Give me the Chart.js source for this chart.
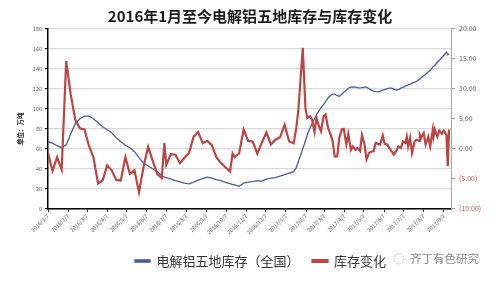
<!DOCTYPE html>
<html><head><meta charset="utf-8">
<script src="https://cdn.jsdelivr.net/npm/chart.js@4.4.0/dist/chart.umd.min.js"></script>
<style>html,body{margin:0;padding:0;background:#fff}canvas{display:block}</style>
</head><body>
<canvas id="c" width="500" height="281"></canvas>
<script>
const titleText = '2016年1月至今电解铝五地库存与库存变化';
const yTitle = '单位：万吨';
const seriesNames = ['电解铝五地库存（全国）', '库存变化'];
const watermark = '齐丁有色研究';

const dates = [
 '2016/1/7','2016/1/14','2016/1/21','2016/1/28','2016/2/4','2016/2/11','2016/2/18','2016/2/25',
 '2016/3/3','2016/3/10','2016/3/17','2016/3/24','2016/3/31','2016/4/7','2016/4/14','2016/4/21','2016/4/28',
 '2016/5/5','2016/5/12','2016/5/19','2016/5/26','2016/6/2','2016/6/9','2016/6/16','2016/6/23','2016/6/30',
 '2016/7/4','2016/7/7','2016/7/14','2016/7/21','2016/7/28','2016/8/4','2016/8/11','2016/8/18','2016/8/25',
 '2016/9/1','2016/9/8','2016/9/15','2016/9/22','2016/9/29','2016/10/6','2016/10/13','2016/10/17','2016/10/20','2016/10/27',
 '2016/11/3','2016/11/10','2016/11/17','2016/11/24','2016/12/1','2016/12/8','2016/12/15','2016/12/22','2016/12/29',
 '2017/1/5','2017/1/12','2017/1/19','2017/1/23','2017/1/26','2017/2/2','2017/2/6','2017/2/9','2017/2/13','2017/2/16',
 '2017/2/20','2017/2/23','2017/2/27','2017/3/2','2017/3/6','2017/3/9','2017/3/13','2017/3/16','2017/3/20','2017/3/23',
 '2017/3/27','2017/3/30','2017/4/3','2017/4/6','2017/4/10','2017/4/13','2017/4/17','2017/4/20','2017/4/24','2017/4/27',
 '2017/5/1','2017/5/4','2017/5/8','2017/5/11','2017/5/15','2017/5/18','2017/5/22','2017/5/25','2017/5/29',
 '2017/6/1','2017/6/5','2017/6/8','2017/6/12','2017/6/15','2017/6/19','2017/6/22','2017/6/26','2017/6/29',
 '2017/7/3','2017/7/6','2017/7/10','2017/7/12','2017/7/14','2017/7/17','2017/7/20','2017/7/24','2017/7/27','2017/7/31',
 '2017/8/1','2017/8/3','2017/8/7','2017/8/10','2017/8/14','2017/8/17','2017/8/21','2017/8/22','2017/8/24','2017/8/28','2017/8/31',
 '2017/9/4','2017/9/7','2017/9/11','2017/9/13','2017/9/15'
];

const stock = [
 67,65.5,63,61,64,75,85,90,
 92.5,92.5,90,86,82,79,76,71,67,
 63.5,61,57,51,45.5,43,40,37.5,33,
 31.5,31,29.5,28,26.8,25.5,24.8,26.5,28.5,
 30,31.5,30.5,29,28,26.4,25,24.2,23.8,22.5,
 25.5,26.5,27,28,27.6,29.5,30.5,31,32.5,
 34,35.5,37,41,47,60,68,74,80.5,85,
 90,94,98,101,104,107,111,113,114.5,114.5,
 113,112.5,114.5,116.5,118.5,120.5,121.5,121.7,121.5,121,
 120.8,121,121.5,121.5,120,118.5,117.5,117,116.8,
 117.5,118.5,119,120,120.5,120.5,119.5,118.7,119,
 120.5,121.4,122.5,123,123.8,124.2,125.5,126.5,127.4,129.5,
 130,131,132.8,134.5,137,138.5,141.5,142.3,143.5,146.5,148.5,
 151.5,153.5,156.5,154,155
];

const stockChange = [
 -0.7,-3.7,-1.4,-3.5,14.6,9.0,4.8,3.4,
 3.2,0.5,-1.5,-5.8,-5.3,-2.8,-3.6,-5.2,-5.3,
 -1.4,-4.2,-3.6,-7.3,-3.0,0.3,-2.0,-4.2,-4.9,
 0.95,-2.7,-0.9,-1.0,-2.4,-1.5,-0.7,2.0,2.8,
 0.9,1.3,0.6,-1.4,-2.4,-3.1,-3.8,-0.8,-1.4,-0.8,
 3.2,1.3,1.2,-0.85,1.0,2.7,0.7,1.5,1.9,
 4.0,1.2,0.9,3.5,6.2,16.8,6.8,5.1,5.4,4.9,
 2.8,5.1,3.7,2.9,5.4,5.7,3.4,2.6,1.2,-1.3,
 -1.3,1.8,3.2,3.3,0.7,2.45,-0.2,0.4,-0.2,0.1,
 -0.4,2.3,0.7,-1.8,-0.7,-0.5,-0.4,0.95,0.8,
 0.7,2.2,0.8,0.7,0.1,-0.5,-1.0,-0.3,0.4,
 0.1,1.2,0.95,2.0,0.4,1.8,-0.7,1.2,1.5,1.3,
 2.3,1.8,2.6,0.7,2.0,0.4,3.2,2.0,3.2,2.0,3.0,
 2.5,3.0,2.3,-2.9,3.2
];

const tickLabels = ['2016/1/7','2016/2/7','2016/3/7','2016/4/7','2016/5/7','2016/6/7','2016/7/7','2016/8/7',
 '2016/9/7','2016/10/7','2016/11/7','2016/12/7','2017/1/7','2017/2/7','2017/3/7','2017/4/7','2017/5/7',
 '2017/6/7','2017/7/7','2017/8/7','2017/9/7'];

const FONT = '"Noto Sans CJK SC", "Noto Sans", sans-serif';
function dayOf(s) {
  const p = s.split('/').map(Number);
  return (Date.UTC(p[0], p[1] - 1, p[2]) - Date.UTC(2016, 0, 7)) / 864e5;
}
const blueColor = '#4b5c9a';
const redColor = '#bd4442';

const extras = {
  id: 'extras',
  afterLayout(chart) {
    const l = chart.legend;
    l.left += 10.5; l.right += 10.5;
  },
  afterDraw(chart) {
    const c = chart.ctx;
    c.save();
    c.font = 'bold 6.5px ' + FONT;
    c.fillStyle = '#222';
    c.translate(20.7, 128.7);
    c.rotate(-Math.PI / 2);
    c.textAlign = 'center';
    c.textBaseline = 'middle';
    c.fillText(yTitle, 0, 0);
    c.restore();
    c.save();
    c.strokeStyle = '#b5b5b5';
    c.lineWidth = 1;
    c.setLineDash([1.5, 1.5]);
    c.beginPath();
    c.arc(399, 259, 5, 0, Math.PI * 2);
    c.stroke();
    c.setLineDash([]);
    c.font = '11.5px ' + FONT;
    c.fillStyle = '#8a8a8a';
    c.textBaseline = 'middle';
    c.fillText(watermark, 410, 259);
    c.restore();
  }
};

new Chart(document.getElementById('c'), {
  type: 'line',
  data: {
    datasets: [
      { label: seriesNames[0], data: dates.map((d, i) => ({ x: dayOf(d), y: stock[i] })), yAxisID: 'y',
        borderColor: blueColor, backgroundColor: blueColor, borderWidth: 1.3, pointRadius: 0, tension: 0, order: 2 },
      { label: seriesNames[1], data: dates.map((d, i) => ({ x: dayOf(d), y: stockChange[i] })), yAxisID: 'y1',
        borderColor: redColor, backgroundColor: redColor, borderWidth: 2.2, pointRadius: 0, tension: 0, order: 1 }
    ]
  },
  options: {
    responsive: false, animation: false, devicePixelRatio: 1,
    layout: { padding: { left: 0, right: 0, top: 0, bottom: 3.5 } },
    plugins: {
      title: { display: true, text: titleText, color: '#1a1a1a',
        font: { family: FONT, size: 15, weight: 'bold' }, padding: { top: 7, bottom: 3.7 } },
      legend: { position: 'bottom',
        labels: { boxWidth: 15, boxHeight: 2, padding: 13, color: '#333', font: { family: FONT, size: 13 },
          sort: (a, b) => a.datasetIndex - b.datasetIndex } },
      tooltip: { enabled: false }
    },
    scales: {
      x: { type: 'linear', min: 0, max: 620,
        afterFit: s => { s.height = 32.8; },
        afterBuildTicks: s => { s.ticks = tickLabels.map(t => ({ value: dayOf(t) })); },
        ticks: { autoSkip: false, maxRotation: 45, minRotation: 45, padding: 1, color: '#595959',
          font: { family: FONT, size: 5.5 }, callback: (v, i) => tickLabels[i] },
        grid: { display: true, drawOnChartArea: false, drawTicks: true, tickLength: 3, tickColor: '#000' },
        border: { color: '#000', width: 1.5 } },
      y: { position: 'left', min: 0, max: 180,
        afterFit: s => { s.width = 48; },
        ticks: { stepSize: 20, padding: 3, color: '#595959', font: { family: FONT, size: 5.5 } },
        grid: { color: '#d9d9d9', lineWidth: 1.3, tickColor: '#000', tickLength: 3 },
        border: { color: '#000', width: 1.5 } },
      y1: { position: 'right', min: -10, max: 20,
        afterFit: s => { s.width = 49; },
        ticks: { stepSize: 5, padding: 4, font: { family: FONT, size: 7 },
          color: ctx => ctx.tick.value < 0 ? '#d05555' : '#595959',
          callback: v => v < 0 ? '(' + Math.abs(v).toFixed(2) + ')' : v.toFixed(2) },
        grid: { drawOnChartArea: false, tickColor: '#a6a6a6', tickLength: 4 },
        border: { color: '#a6a6a6', width: 1 } }
    }
  },
  plugins: [extras]
});
</script>
</body></html>
